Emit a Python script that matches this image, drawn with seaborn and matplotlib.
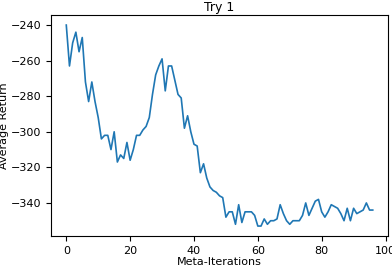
import pandas as pd
import matplotlib
matplotlib.use("Agg")
import matplotlib.pyplot as plt
import seaborn as sns

# average return per meta-iteration
returns = [
    -240, -263, -250, -244, -255, -247, -272, -283, -272, -283,
    -292, -304, -302, -302, -310, -300, -317, -313, -315, -306,
    -316, -310, -302, -302, -299, -297, -292, -279, -268, -263,
    -259, -277, -263, -263, -271, -279, -281, -298, -291, -300,
    -307, -308, -323, -318, -326, -331, -333, -334, -336, -337,
    -348, -345, -345, -352, -341, -351, -345, -345, -345, -347,
    -353, -353, -349, -352, -350, -350, -349, -341, -346, -350,
    -352, -350, -350, -350, -347, -340, -347, -343, -339, -338,
    -345, -348, -345, -341, -342, -343, -346, -350, -343, -350,
    -343, -346, -345, -344, -340, -344, -344,
]
iterations = list(range(len(returns)))
x_ticks = [0, 20, 40, 60, 80, 100]
y_ticks = [-340, -320, -300, -280, -260, -240]

df = pd.DataFrame({"Meta-Iterations": iterations, "Average Return": returns})

plt.rcParams["font.family"] = ["DejaVu Sans"]
plt.rcParams["font.size"] = 8

fig = plt.figure(figsize=(3.92, 2.68), dpi=100)
ax = fig.add_axes([0.130, 0.119, 0.860, 0.825])
sns.lineplot(data=df, x="Meta-Iterations", y="Average Return", ax=ax,
             color="#1f77b4", linewidth=1.2)

ax.set_xticks(x_ticks)
ax.set_yticks(y_ticks)
ax.tick_params(labelsize=8, length=3.5, width=0.8)
ax.set_title("Try 1", fontsize=9, pad=3)
ax.set_xlabel("Meta-Iterations", fontsize=8, labelpad=1)
ax.set_ylabel("Average Return", fontsize=8, labelpad=1)
for s in ax.spines.values():
    s.set_linewidth(0.8)

fig.savefig("out.png", dpi=100)
